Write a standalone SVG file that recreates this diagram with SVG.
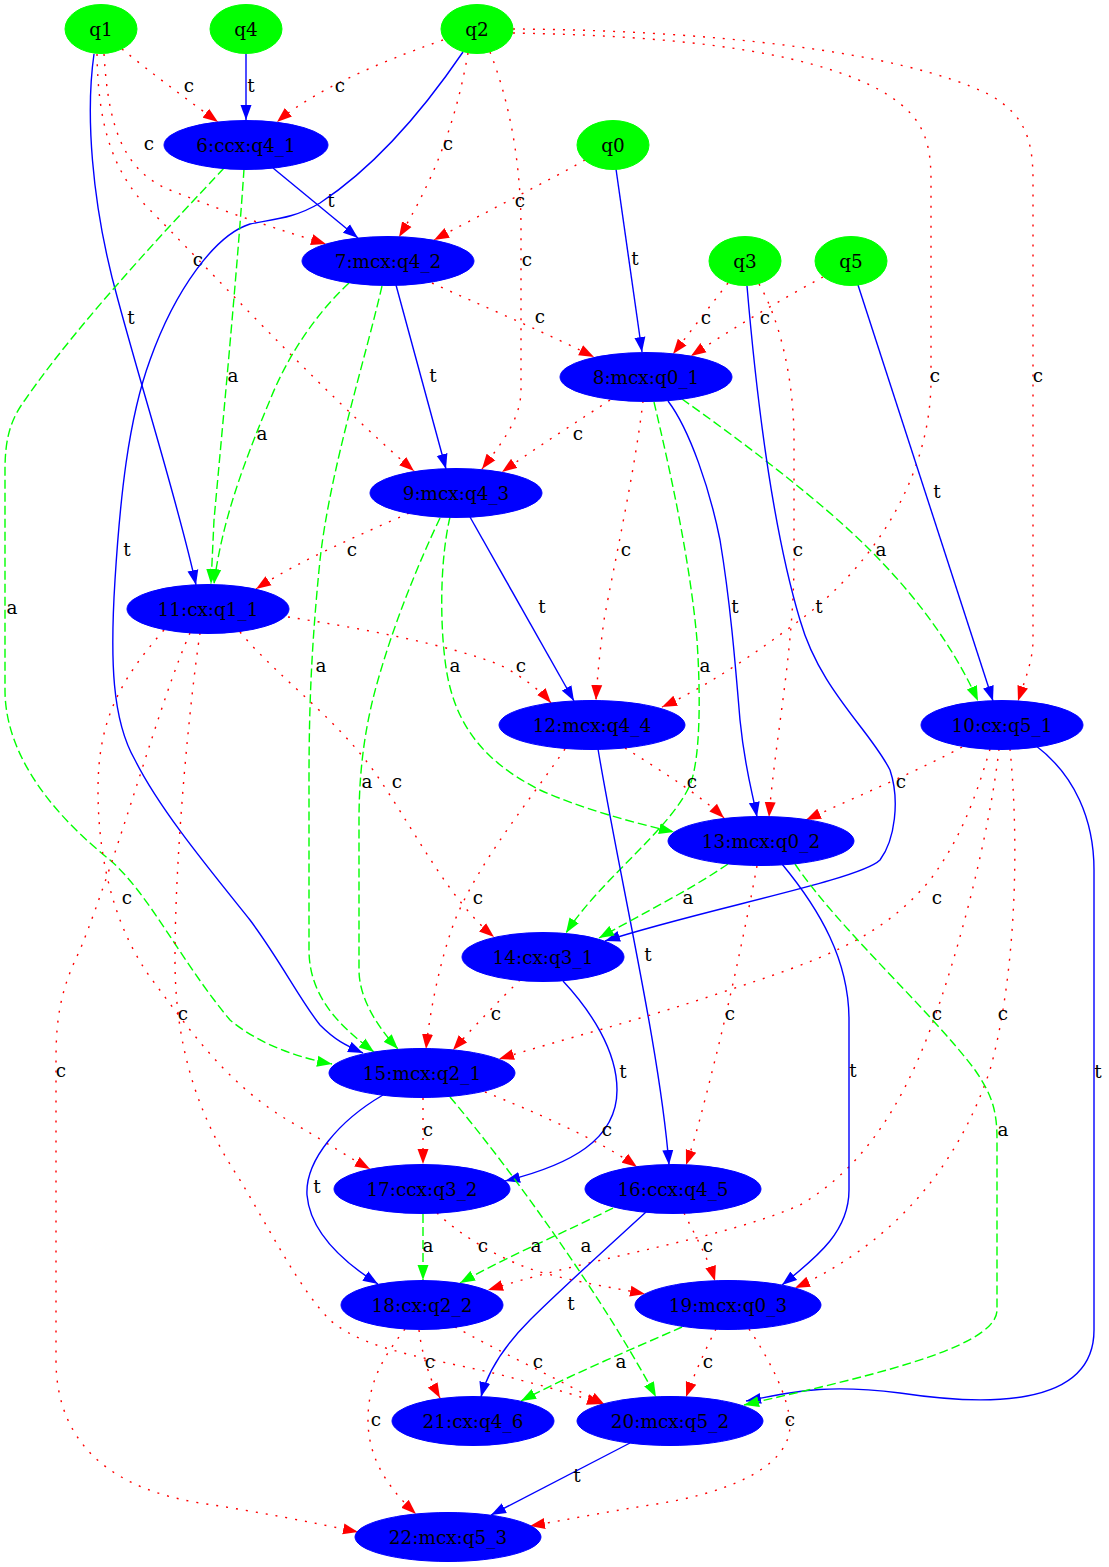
<svg xmlns="http://www.w3.org/2000/svg" width="1109" height="1567" viewBox="0 0 1109 1567">
<style>
  .q ellipse { fill: #00ff00; stroke: #00ff00; }
  .g ellipse { fill: #0000ff; stroke: #0000ff; }
  .node text { font-family: "DejaVu Serif", "Liberation Serif", serif; font-size: 18.4px; text-anchor: middle; fill: #000; }
  .edge path { fill: none; stroke-width: 1.4; }
  .edge text { font-family: "DejaVu Serif", "Liberation Serif", serif; font-size: 18.4px; text-anchor: middle; fill: #000; }
  .t path { stroke: #0000ff; marker-end: url(#ah-t); }
  .c path { stroke: #ff0000; stroke-dasharray: 2 8; marker-end: url(#ah-c); }
  .a path { stroke: #00ff00; stroke-dasharray: 9 4; marker-end: url(#ah-a); }
</style>
<defs>
  <marker id="ah-t" markerUnits="userSpaceOnUse" markerWidth="15" markerHeight="12" viewBox="0 0 15 12" refX="15" refY="6" orient="auto"><path d="M0,0.5 L15,6 L0,11.5 z" fill="#0000ff"/></marker>
  <marker id="ah-c" markerUnits="userSpaceOnUse" markerWidth="15" markerHeight="12" viewBox="0 0 15 12" refX="15" refY="6" orient="auto"><path d="M0,0.5 L15,6 L0,11.5 z" fill="#ff0000"/></marker>
  <marker id="ah-a" markerUnits="userSpaceOnUse" markerWidth="15" markerHeight="12" viewBox="0 0 15 12" refX="15" refY="6" orient="auto"><path d="M0,0.5 L15,6 L0,11.5 z" fill="#00ff00"/></marker>
</defs>
<rect width="1109" height="1567" fill="#fff"/>

<g id="edges">
  <g class="edge t"><path d="M246,54 L246,120"/><text x="251" y="92">t</text></g>
  <g class="edge c"><path d="M122,49 C150,72 185,98 218,122"/><text x="189" y="92">c</text></g>
  <g class="edge c"><path d="M443,40 C400,55 320,85 277,122"/><text x="340" y="92">c</text></g>
  <g class="edge c"><path d="M104,54 C108,120 120,170 170,190 C230,214 280,230 326,244"/><text x="149" y="150">c</text></g>
  <g class="edge t"><path d="M273,168 L358,238"/><text x="331" y="207">t</text></g>
  <g class="edge c"><path d="M468,53 C458,110 440,170 399,237"/><text x="448" y="150">c</text></g>
  <g class="edge c"><path d="M585,160 C550,180 480,215 434,240"/><text x="520" y="207">c</text></g>
  <g class="edge c"><path d="M97,54 C98,120 110,170 150,210 C200,260 320,390 414,471"/><text x="198" y="266">c</text></g>
  <g class="edge t"><path d="M94,54 C86,110 90,200 118,300 C145,400 180,510 196,585"/><text x="131" y="324">t</text></g>
  <g class="edge c"><path d="M490,52 C505,90 521,150 521,230 L521,390 C521,420 500,445 482,469"/><text x="527" y="266">c</text></g>
  <g class="edge c"><path d="M513,33 C620,35 780,42 870,85 C920,110 931,135 931,180 L931,380 C931,470 880,560 800,620 C760,650 710,685 662,707"/><text x="935" y="382">c</text></g>
  <g class="edge c"><path d="M513,29 C700,30 900,50 990,95 C1025,115 1033,140 1033,180 L1033,640 C1033,660 1025,680 1018,701"/><text x="1038" y="382">c</text></g>
  <g class="edge t"><path d="M463,52 C420,115 370,170 320,203 C295,218 275,219 250,224 C215,235 175,290 150,360 C128,420 120,500 115,580 C110,660 112,720 135,760 C160,810 210,870 250,920 C280,960 300,1000 320,1025 C335,1040 345,1045 363,1053"/><text x="127" y="556">t</text></g>
  <g class="edge t"><path d="M616,169 L642,352"/><text x="635" y="265">t</text></g>
  <g class="edge a"><path d="M244,169 C238,260 225,400 214,520 L211,584"/><text x="233" y="382">a</text></g>
  <g class="edge a"><path d="M224,168 C180,215 80,320 25,400 C10,420 5,440 5,470 L5,690 C5,760 60,820 110,860 C150,895 180,960 230,1020 C260,1045 300,1058 332,1064"/><text x="12" y="614">a</text></g>
  <g class="edge c"><path d="M432,283 C480,305 540,330 594,357"/><text x="540" y="323">c</text></g>
  <g class="edge t"><path d="M396,285 L446,469"/><text x="433" y="382">t</text></g>
  <g class="edge a"><path d="M349,283 C320,310 290,350 270,400 C245,460 222,520 214,584"/><text x="262" y="440">a</text></g>
  <g class="edge a"><path d="M382,286 C365,360 330,470 320,560 C312,640 309,700 309,780 L309,950 C309,1000 345,1030 374,1052"/><text x="321" y="672">a</text></g>
  <g class="edge c"><path d="M610,400 C580,420 540,445 502,472"/><text x="578" y="440">c</text></g>
  <g class="edge a"><path d="M682,399 C740,440 820,500 870,550 C920,600 955,650 978,701"/><text x="881" y="556">a</text></g>
  <g class="edge c"><path d="M643,401 C635,470 615,560 604,620 C600,650 597,680 596,700"/><text x="626" y="556">c</text></g>
  <g class="edge t"><path d="M668,401 C690,430 710,490 720,540 C730,600 735,660 740,720 C745,770 752,790 757,817"/><text x="735" y="613">t</text></g>
  <g class="edge a"><path d="M654,402 C670,470 690,560 697,640 C701,700 700,760 690,785 C670,830 600,880 566,933"/><text x="705" y="672">a</text></g>
  <g class="edge c"><path d="M728,283 L673,354"/><text x="706" y="324">c</text></g>
  <g class="edge c"><path d="M823,277 C780,300 730,330 691,356"/><text x="765" y="324">c</text></g>
  <g class="edge c"><path d="M759,284 C780,320 794,380 794,440 L794,560 C794,650 775,740 769,817"/><text x="798" y="556">c</text></g>
  <g class="edge t"><path d="M747,286 C755,380 770,520 800,620 C820,690 870,730 890,770 C900,800 895,840 880,860 C860,880 700,910 605,941"/><text x="819" y="613">t</text></g>
  <g class="edge t"><path d="M858,285 L993,701"/><text x="937" y="498">t</text></g>
  <g class="edge c"><path d="M409,513 C360,535 300,560 256,589"/><text x="352" y="556">c</text></g>
  <g class="edge t"><path d="M470,517 L574,701"/><text x="542" y="613">t</text></g>
  <g class="edge a"><path d="M450,517 C440,560 440,620 445,660 C452,720 480,760 540,790 C580,808 630,822 674,832"/><text x="455" y="672">a</text></g>
  <g class="edge a"><path d="M440,518 C420,560 395,620 378,680 C365,725 359,770 359,820 L359,970 C359,1000 380,1030 398,1049"/><text x="367" y="788">a</text></g>
  <g class="edge c"><path d="M288,617 C360,628 450,645 500,665 C520,675 540,690 551,703"/><text x="521" y="672">c</text></g>
  <g class="edge c"><path d="M240,632 C280,680 340,720 380,780 C420,840 450,900 494,937"/><text x="397" y="788">c</text></g>
  <g class="edge c"><path d="M164,630 C120,680 98,720 98,790 C98,850 110,920 150,977 C190,1030 230,1090 300,1127 C330,1145 350,1158 370,1169"/><text x="127" y="904">c</text></g>
  <g class="edge c"><path d="M200,633 C190,700 175,850 175,960 C175,1050 200,1120 240,1180 C270,1230 300,1290 330,1320 C370,1355 450,1360 520,1380 C560,1390 580,1397 602,1404"/><text x="183" y="1020">c</text></g>
  <g class="edge c"><path d="M190,633 C160,700 120,850 80,950 C60,990 56,1020 56,1060 L56,1360 C56,1450 120,1490 200,1503 C260,1512 310,1522 358,1532"/><text x="61" y="1077">c</text></g>
  <g class="edge c"><path d="M625,748 C660,770 700,795 724,818"/><text x="692" y="788">c</text></g>
  <g class="edge c"><path d="M565,749 C530,800 480,860 455,920 C440,960 430,1010 426,1049"/><text x="478" y="904">c</text></g>
  <g class="edge t"><path d="M598,749 C620,880 660,1050 669,1165"/><text x="648" y="961">t</text></g>
  <g class="edge c"><path d="M962,747 C920,770 860,795 806,820"/><text x="901" y="788">c</text></g>
  <g class="edge c"><path d="M990,749 C975,800 960,840 930,880 C880,940 820,960 720,993 C640,1020 560,1040 499,1059"/><text x="937" y="904">c</text></g>
  <g class="edge c"><path d="M999,749 C990,830 960,950 930,1030 C900,1110 860,1170 800,1205 C720,1240 600,1255 488,1290"/><text x="937" y="1020">c</text></g>
  <g class="edge c"><path d="M1010,749 C1020,850 1015,980 990,1070 C960,1160 900,1240 795,1288"/><text x="1003" y="1020">c</text></g>
  <g class="edge t"><path d="M1035,745 C1075,775 1094,820 1094,870 L1094,1330 C1094,1410 980,1405 900,1393 C820,1383 790,1393 746,1401"/><text x="1098" y="1078">t</text></g>
  <g class="edge a"><path d="M728,864 C690,890 640,915 599,938"/><text x="688" y="904">a</text></g>
  <g class="edge c"><path d="M757,866 C745,930 730,1000 715,1060 C705,1100 695,1140 686,1165"/><text x="730" y="1020">c</text></g>
  <g class="edge t"><path d="M782,864 C820,910 849,960 849,1020 L849,1190 C849,1230 820,1255 782,1285"/><text x="853" y="1077">t</text></g>
  <g class="edge a"><path d="M795,864 C840,930 930,1010 975,1070 C992,1095 997,1110 997,1140 L997,1310 C997,1350 850,1380 744,1405"/><text x="1003" y="1136">a</text></g>
  <g class="edge c"><path d="M520,980 C500,1000 475,1025 453,1050"/><text x="496" y="1020">c</text></g>
  <g class="edge t"><path d="M563,981 C590,1010 617,1050 617,1090 C617,1140 570,1165 505,1181"/><text x="623" y="1078">t</text></g>
  <g class="edge c"><path d="M423,1098 L423,1164"/><text x="428" y="1136">c</text></g>
  <g class="edge c"><path d="M485,1092 C530,1110 600,1140 637,1167"/><text x="607" y="1136">c</text></g>
  <g class="edge t"><path d="M383,1095 C340,1120 305,1160 307,1195 C310,1230 340,1260 378,1284"/><text x="317" y="1193">t</text></g>
  <g class="edge a"><path d="M450,1097 C520,1180 610,1310 656,1397"/><text x="586" y="1252">a</text></g>
  <g class="edge a"><path d="M613,1208 C570,1230 510,1255 460,1283"/><text x="536" y="1252">a</text></g>
  <g class="edge c"><path d="M684,1213 C695,1235 708,1258 715,1281"/><text x="708" y="1252">c</text></g>
  <g class="edge t"><path d="M646,1212 C610,1245 560,1290 530,1320 C505,1345 488,1370 481,1397"/><text x="571" y="1310">t</text></g>
  <g class="edge a"><path d="M423,1214 L423,1280"/><text x="428" y="1252">a</text></g>
  <g class="edge c"><path d="M437,1213 C460,1235 500,1260 540,1272 C580,1283 610,1287 645,1294"/><text x="483" y="1252">c</text></g>
  <g class="edge c"><path d="M419,1330 C422,1355 430,1380 440,1398"/><text x="430" y="1368">c</text></g>
  <g class="edge c"><path d="M455,1327 C500,1352 560,1380 605,1405"/><text x="538" y="1368">c</text></g>
  <g class="edge c"><path d="M405,1329 C385,1355 368,1380 368,1420 C368,1460 390,1490 416,1514"/><text x="376" y="1426">c</text></g>
  <g class="edge c"><path d="M716,1329 C705,1350 694,1375 686,1397"/><text x="708" y="1368">c</text></g>
  <g class="edge a"><path d="M682,1327 C630,1350 570,1375 521,1401"/><text x="621" y="1368">a</text></g>
  <g class="edge c"><path d="M749,1329 C770,1360 790,1400 790,1425 C790,1470 720,1495 650,1505 C600,1513 565,1520 530,1526"/><text x="790" y="1426">c</text></g>
  <g class="edge t"><path d="M630,1443 L491,1515"/><text x="577" y="1482">t</text></g>
</g>

<g id="nodes">
  <g id="q1" class="node q"><ellipse cx="101" cy="29" rx="36" ry="24.5"/><text x="101" y="35.5">q1</text></g>
  <g id="q4" class="node q"><ellipse cx="246" cy="29" rx="36" ry="24.5"/><text x="246" y="35.5">q4</text></g>
  <g id="q2" class="node q"><ellipse cx="477" cy="29" rx="36" ry="24.5"/><text x="477" y="35.5">q2</text></g>
  <g id="q0" class="node q"><ellipse cx="613" cy="145" rx="36" ry="24.5"/><text x="613" y="151.5">q0</text></g>
  <g id="q3" class="node q"><ellipse cx="745" cy="261" rx="36" ry="24.5"/><text x="745" y="267.5">q3</text></g>
  <g id="q5" class="node q"><ellipse cx="851" cy="261" rx="36" ry="24.5"/><text x="851" y="267.5">q5</text></g>
  <g id="n6" class="node g"><ellipse cx="246" cy="145" rx="82" ry="24.5"/><text x="246" y="151.5">6:ccx:q4_1</text></g>
  <g id="n7" class="node g"><ellipse cx="388" cy="261" rx="86" ry="24.5"/><text x="388" y="267.5">7:mcx:q4_2</text></g>
  <g id="n8" class="node g"><ellipse cx="646" cy="377" rx="86" ry="24.5"/><text x="646" y="383.5">8:mcx:q0_1</text></g>
  <g id="n9" class="node g"><ellipse cx="456" cy="493" rx="86" ry="24.5"/><text x="456" y="499.5">9:mcx:q4_3</text></g>
  <g id="n11" class="node g"><ellipse cx="208" cy="609" rx="81" ry="24.5"/><text x="208" y="615.5">11:cx:q1_1</text></g>
  <g id="n12" class="node g"><ellipse cx="592" cy="725" rx="93" ry="24.5"/><text x="592" y="731.5">12:mcx:q4_4</text></g>
  <g id="n10" class="node g"><ellipse cx="1002" cy="725" rx="81" ry="24.5"/><text x="1002" y="731.5">10:cx:q5_1</text></g>
  <g id="n13" class="node g"><ellipse cx="761" cy="841" rx="93" ry="24.5"/><text x="761" y="847.5">13:mcx:q0_2</text></g>
  <g id="n14" class="node g"><ellipse cx="543" cy="957" rx="81" ry="24.5"/><text x="543" y="963.5">14:cx:q3_1</text></g>
  <g id="n15" class="node g"><ellipse cx="422" cy="1073" rx="93" ry="24.5"/><text x="422" y="1079.5">15:mcx:q2_1</text></g>
  <g id="n17" class="node g"><ellipse cx="422" cy="1189" rx="88" ry="24.5"/><text x="422" y="1195.5">17:ccx:q3_2</text></g>
  <g id="n16" class="node g"><ellipse cx="673" cy="1189" rx="88" ry="24.5"/><text x="673" y="1195.5">16:ccx:q4_5</text></g>
  <g id="n18" class="node g"><ellipse cx="422" cy="1305" rx="81" ry="24.5"/><text x="422" y="1311.5">18:cx:q2_2</text></g>
  <g id="n19" class="node g"><ellipse cx="728" cy="1305" rx="93" ry="24.5"/><text x="728" y="1311.5">19:mcx:q0_3</text></g>
  <g id="n21" class="node g"><ellipse cx="473" cy="1421" rx="81" ry="24.5"/><text x="473" y="1427.5">21:cx:q4_6</text></g>
  <g id="n20" class="node g"><ellipse cx="670" cy="1421" rx="93" ry="24.5"/><text x="670" y="1427.5">20:mcx:q5_2</text></g>
  <g id="n22" class="node g"><ellipse cx="448" cy="1537" rx="93" ry="24.5"/><text x="448" y="1543.5">22:mcx:q5_3</text></g>
</g>
</svg>
